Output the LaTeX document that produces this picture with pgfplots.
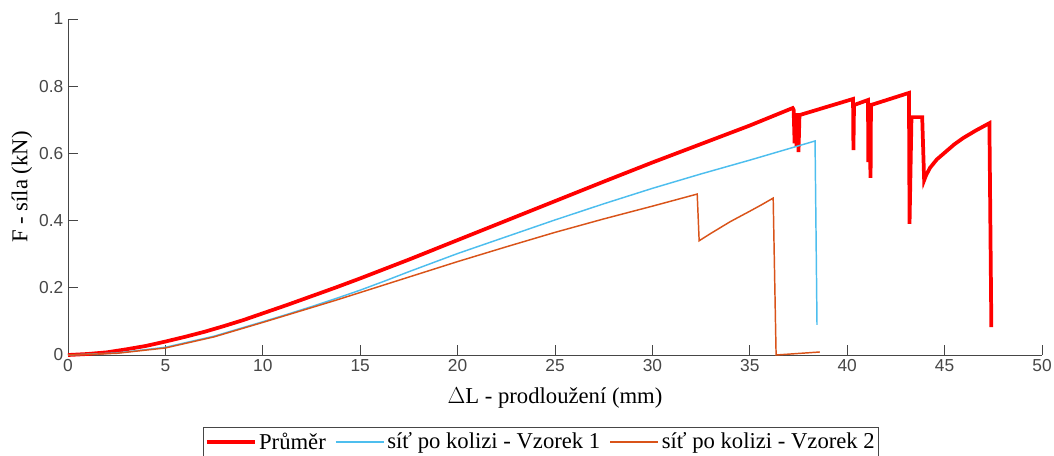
\documentclass[border=0pt]{standalone}
\usepackage{fontspec}
\setmainfont{Liberation Serif}
\newfontfamily\arialf{Liberation Sans}
\usepackage{pgfplots}
\pgfplotsset{compat=1.18}
\definecolor{mred}{RGB}{255,0,0}
\definecolor{mblue}{RGB}{77,190,238}
\definecolor{morange}{RGB}{217,83,25}
\definecolor{axgray}{RGB}{70,70,70}
\begin{document}
\begin{tikzpicture}
\begin{axis}[
  name=ax,
  scale only axis,
  width=730.5pt, height=252pt,
  xmin=0, xmax=50, ymin=0, ymax=1,
  axis x line*=bottom, axis y line*=left,
  axis line style={-, axgray, line width=0.6pt},
  tick style={axgray, line width=0.6pt},
  tick align=inside,
  major tick length=7.3pt,
  xtick={0,5,...,50},
  ytick={0,0.2,0.4,0.6,0.8,1},
  yticklabels={0,0.2,0.4,0.6,0.8,1},
  /pgf/number format/assume math mode=true,
  tick label style={font=\arialf\fontsize{13}{15}\selectfont, text=axgray},
  xlabel={$\Delta$L - prodloužení (mm)},
  ylabel={F - síla (kN)},
  label style={font=\fontsize{17}{20}\selectfont},
  xlabel style={at={(axis description cs:0.5,-0.128)}, anchor=center},
  ylabel style={at={(axis description cs:-0.0472,0.5)}, anchor=center},
  legend columns=3,
  legend cell align=left,
  legend style={at={(0.1386,-0.214)}, anchor=north west, font=\fontsize{17}{20}\selectfont,
    draw=axgray, line width=0.6pt, inner xsep=1pt, inner ysep=3pt,
    nodes={inner xsep=2pt, inner ysep=1pt},
    /tikz/every even column/.append style={column sep=5pt}},
  legend image code/.code={\draw[#1] (0pt,0pt) -- (36pt,0pt);},
  clip=false,
]
\addplot[mred, line width=2.8pt, line join=miter] coordinates {
(0,0) (1,0.003) (2,0.008) (3,0.017) (4,0.027) (5,0.040) (6,0.054) (7,0.069)
(8,0.086) (9,0.104) (10,0.124) (11.25,0.149) (12.5,0.175) (13.75,0.201) (15,0.228)
(16.25,0.256) (17.5,0.284) (18.75,0.313) (20,0.342) (22.5,0.400) (25,0.458)
(27.5,0.516) (30,0.573) (32.5,0.628) (35,0.683) (37.2,0.735)
(37.25,0.73) (37.3,0.63) (37.35,0.71) (37.4,0.62) (37.45,0.72) (37.5,0.604) (37.55,0.714)
(40.3,0.762) (40.32,0.61) (40.35,0.744) (41.07,0.759) (41.08,0.574) (41.1,0.75)
(41.2,0.527) (41.22,0.744) (43.17,0.78) (43.2,0.39) (43.3,0.708) (43.85,0.708)
(43.95,0.52) (44.05,0.535) (44.25,0.557) (44.6,0.582) (45.1,0.607) (45.5,0.627)
(45.96,0.646) (46.6,0.668) (47.3,0.69) (47.4,0.083)
};
\addlegendentry{Průměr}
\addplot[mblue, line width=1.1pt] coordinates {
(0,0) (2.5,0.006) (5,0.023) (7.5,0.056) (10,0.099) (11.25,0.121) (12.5,0.144)
(13.75,0.168) (15,0.193) (16.25,0.220) (17.5,0.248) (18.75,0.275) (20,0.302)
(22.5,0.352) (25,0.402) (27.5,0.450) (30,0.496)
(32.5,0.539) (35,0.580) (38.35,0.637) (38.45,0.09)
};
\addlegendentry{síť po kolizi - Vzorek 1}
\addplot[morange, line width=1.1pt] coordinates {
(0,0) (2.5,0.005) (5,0.021) (7.5,0.054) (10,0.097) (11.25,0.119) (12.5,0.141)
(13.75,0.163) (15,0.186) (17.5,0.232) (20,0.278) (22.5,0.322) (25,0.365)
(27.5,0.405) (30,0.443)
(32.3,0.479) (32.4,0.34) (33,0.362) (34,0.397) (35,0.428) (35.6,0.447)
(36.2,0.467) (36.35,0.0) (38.6,0.009)
};
\addlegendentry{síť po kolizi - Vzorek 2}
\end{axis}
\pgfresetboundingbox
\path ([shift={(-51pt,-75pt)}]ax.south west) rectangle ([shift={(739.5pt,266.25pt)}]ax.south west);
\end{tikzpicture}
\end{document}
